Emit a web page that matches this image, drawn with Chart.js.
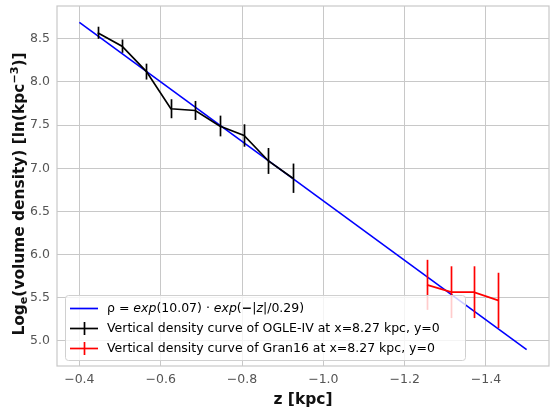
<!DOCTYPE html>
<html>
<head>
<meta charset="utf-8">
<script src="https://cdn.jsdelivr.net/npm/chart.js@4/dist/chart.umd.min.js"></script>
<style>
html,body{margin:0;padding:0;background:#fff;}
#wrap{width:550px;height:409px;position:relative;}
</style>
</head>
<body>
<div id="wrap"><canvas id="c" width="550" height="409"></canvas></div>
<script>
// ---- data ----
const FIT_Z = [-0.4, -1.5];
const FIT_Y = [8.69, 4.90];
const OGLE_Z = [-0.445, -0.505, -0.565, -0.625, -0.685, -0.745, -0.805, -0.865, -0.925];
const OGLE_Y = [8.57, 8.415, 8.12, 7.69, 7.67, 7.49, 7.38, 7.085, 6.885];
const OGLE_ERR = [0.07, 0.077, 0.092, 0.11, 0.11, 0.12, 0.13, 0.15, 0.17];
const GRAN_Z = [-1.255, -1.315, -1.37, -1.43];
const GRAN_Y = [5.65, 5.565, 5.565, 5.47];
const GRAN_ERR = [0.29, 0.30, 0.30, 0.32];
const X_TICKS = [-0.4, -0.6, -0.8, -1.0, -1.2, -1.4];
const Y_TICKS = [5.0, 5.5, 6.0, 6.5, 7.0, 7.5, 8.0, 8.5];
const LABEL_FIT = 'ρ = exp(10.07) · exp(−|z|/0.29)';
const LABEL_OGLE = 'Vertical density curve of OGLE-IV at x=8.27 kpc, y=0';
const LABEL_GRAN = 'Vertical density curve of Gran16 at x=8.27 kpc, y=0';
const X_TITLE = 'z [kpc]';
// y title pieces: [text, kind] (kind: n = normal, sub = subscript, sup = superscript)
const Y_TITLE_PARTS = [['Log', 'n'], ['e', 'sub'], ['(volume density) [ln(kpc', 'n'], ['−3', 'sup'], [')]', 'n']];

const FONT = 'DejaVu Sans';
const pts = (xs, ys) => xs.map((x, i) => ({x: x, y: ys[i]}));
const fmt = v => (v < 0 ? '\u2212' : '') + Math.abs(v).toFixed(1);

const errorBars = {
  id: 'errorBars',
  afterDatasetsDraw(chart) {
    const ctx = chart.ctx, xs = chart.scales.x, ys = chart.scales.y, a = chart.chartArea;
    ctx.save();
    ctx.beginPath(); ctx.rect(a.left, a.top, a.right - a.left, a.bottom - a.top); ctx.clip();
    const draw = (zs, vs, es, col) => {
      ctx.strokeStyle = col; ctx.lineWidth = 1.7;
      zs.forEach((z, i) => {
        const px = Math.round(xs.getPixelForValue(z)) + 0.5;
        ctx.beginPath();
        ctx.moveTo(px, ys.getPixelForValue(vs[i] - es[i]));
        ctx.lineTo(px, ys.getPixelForValue(vs[i] + es[i]));
        ctx.stroke();
      });
    };
    draw(OGLE_Z, OGLE_Y, OGLE_ERR, '#000000');
    draw(GRAN_Z, GRAN_Y, GRAN_ERR, '#ff0000');
    ctx.restore();
  }
};

const frameLegend = {
  id: 'frameLegend',
  afterDraw(chart) {
    const ctx = chart.ctx, a = chart.chartArea;
    ctx.save();
    // frame
    ctx.strokeStyle = '#c8c8c8'; ctx.lineWidth = 1.2;
    ctx.strokeRect(a.left, a.top, a.right - a.left, a.bottom - a.top);
    // y title
    const big = 15.4, small = 11.2;
    const fnt = k => 'bold ' + (k === 'n' ? big : small) + 'px "' + FONT + '"';
    let total = 0;
    Y_TITLE_PARTS.forEach(([t, k]) => { ctx.font = fnt(k); total += ctx.measureText(t).width; });
    ctx.save();
    ctx.translate(18, 194);
    ctx.rotate(-Math.PI / 2);
    ctx.fillStyle = '#111'; ctx.textBaseline = 'alphabetic'; ctx.textAlign = 'left';
    let tx0 = -total / 2;
    const base = 5.5;
    Y_TITLE_PARTS.forEach(([t, k]) => {
      ctx.font = fnt(k);
      const dy = k === 'sub' ? 3 : k === 'sup' ? -6 : 0;
      ctx.fillText(t, tx0, base + dy);
      tx0 += ctx.measureText(t).width;
    });
    ctx.restore();
    // legend box
    const bx = 65.5, by = 295.5, bw = 400, bh = 65, r = 3;
    ctx.beginPath();
    ctx.moveTo(bx + r, by); ctx.lineTo(bx + bw - r, by); ctx.quadraticCurveTo(bx + bw, by, bx + bw, by + r);
    ctx.lineTo(bx + bw, by + bh - r); ctx.quadraticCurveTo(bx + bw, by + bh, bx + bw - r, by + bh);
    ctx.lineTo(bx + r, by + bh); ctx.quadraticCurveTo(bx, by + bh, bx, by + bh - r);
    ctx.lineTo(bx, by + r); ctx.quadraticCurveTo(bx, by, bx + r, by); ctx.closePath();
    ctx.fillStyle = 'rgba(255,255,255,0.8)'; ctx.fill();
    ctx.strokeStyle = '#d0d0d0'; ctx.lineWidth = 1; ctx.stroke();
    // handles
    const hx0 = 70, hx1 = 98, rows = [308.5, 328.5, 348.5];
    const cols = ['#0000ff', '#000000', '#ff0000'];
    rows.forEach((y, i) => {
      ctx.strokeStyle = cols[i]; ctx.lineWidth = 1.7;
      ctx.beginPath(); ctx.moveTo(hx0, y); ctx.lineTo(hx1, y); ctx.stroke();
      if (i > 0) {
        ctx.beginPath(); ctx.moveTo(84.5, y - 6.5); ctx.lineTo(84.5, y + 6.5); ctx.stroke();
      }
    });
    // texts
    const tx = 107, fs = 12.5;
    ctx.fillStyle = '#000'; ctx.textBaseline = 'middle'; ctx.textAlign = 'left';
    const segs = [
      ['ρ', 'normal'], [' = ', 'normal'], ['exp', 'italic'], ['(10.07)', 'normal'], [' · ', 'normal'],
      ['exp', 'italic'], ['(', 'normal'], ['−', 'bold'], ['|', 'normal'], ['z', 'italic'], ['|/0.29)', 'normal']
    ];
    let x = tx;
    segs.forEach(([t, st]) => {
      ctx.font = (st === 'italic' ? 'italic ' : st === 'bold' ? 'bold ' : '') + fs + 'px "' + FONT + '"';
      ctx.fillText(t, x, rows[0]);
      x += ctx.measureText(t).width;
    });
    ctx.font = fs + 'px "' + FONT + '"';
    ctx.fillText(LABEL_OGLE, tx, rows[1]);
    ctx.fillText(LABEL_GRAN, tx, rows[2]);
    ctx.restore();
  }
};

new Chart(document.getElementById('c'), {
  type: 'line',
  data: {
    datasets: [
      {label: LABEL_OGLE, data: pts(OGLE_Z, OGLE_Y), borderColor: '#000000', borderWidth: 1.7, pointRadius: 0, fill: false, tension: 0},
      {label: LABEL_GRAN, data: pts(GRAN_Z, GRAN_Y), borderColor: '#ff0000', borderWidth: 1.7, pointRadius: 0, fill: false, tension: 0},
      {label: LABEL_FIT, data: pts(FIT_Z, FIT_Y), borderColor: '#0000ff', borderWidth: 1.6, pointRadius: 0, fill: false, tension: 0}
    ]
  },
  options: {
    responsive: false,
    animation: false,
    devicePixelRatio: 1,
    layout: {padding: {top: 6, right: 1, left: 0, bottom: 0}},
    plugins: {legend: {display: false}, tooltip: {enabled: false}},
    scales: {
      x: {
        type: 'linear', reverse: true, min: -1.555, max: -0.345,
        afterBuildTicks: s => { s.ticks = X_TICKS.map(v => ({value: v})); },
        afterFit: s => { s.height = 43; s.paddingLeft = 0; s.paddingRight = 0; },
        ticks: {callback: v => fmt(v), color: '#555', font: {family: FONT, size: 12.5}, padding: 6, maxRotation: 0, autoSkip: false},
        grid: {color: '#c8c8c8', lineWidth: 1, drawTicks: false},
        border: {display: false},
        title: {display: true, text: X_TITLE, color: '#111', font: {family: FONT, size: 15.5, weight: 'bold'}, padding: {top: 2, bottom: 0}}
      },
      y: {
        type: 'linear', min: 4.71, max: 8.88,
        afterBuildTicks: s => { s.ticks = Y_TICKS.map(v => ({value: v})); },
        afterFit: s => { s.width = 57; s.paddingTop = 0; s.paddingBottom = 0; },
        ticks: {callback: v => v.toFixed(1), color: '#555', font: {family: FONT, size: 12.5}, padding: 7, autoSkip: false},
        grid: {color: '#c8c8c8', lineWidth: 1, drawTicks: false},
        border: {display: false},
        title: {display: false}
      }
    }
  },
  plugins: [errorBars, frameLegend]
});
</script>
</body>
</html>
